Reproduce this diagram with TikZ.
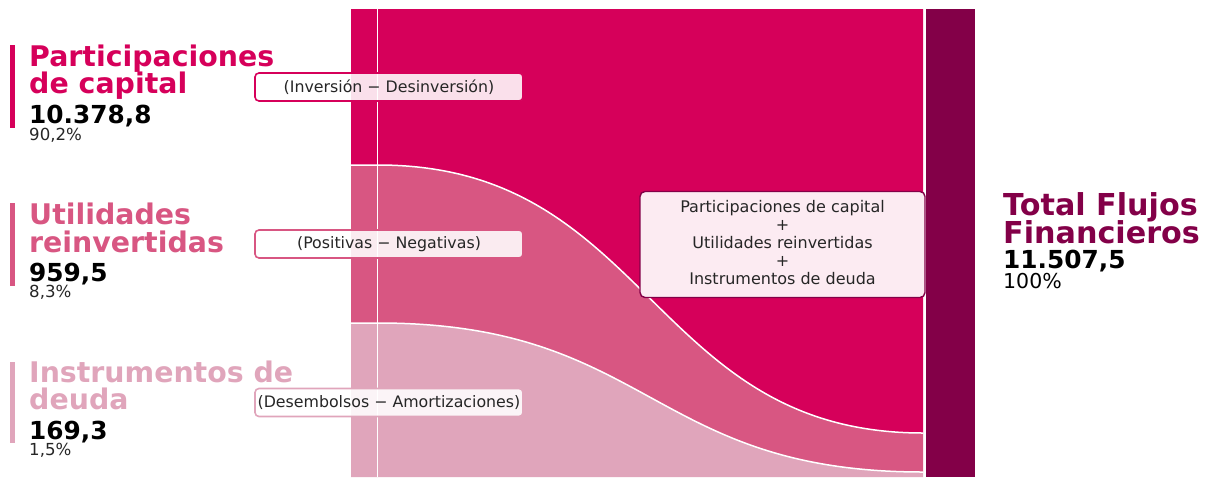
\documentclass[tikz,border=0pt]{standalone}
\usepackage{fontspec}
\setmainfont{DejaVu Sans}
\definecolor{colCap}{RGB}{214,0,90}
\definecolor{colUti}{RGB}{216,86,130}
\definecolor{colIns}{RGB}{224,165,187}
\definecolor{colTot}{RGB}{131,0,72}
\definecolor{tintCap}{RGB}{250,224,235}
\definecolor{tintUti}{RGB}{250,235,240}
\definecolor{tintIns}{RGB}{251,244,247}
\definecolor{sumFill}{RGB}{252,235,242}
\definecolor{txt}{RGB}{38,38,38}
\tikzset{
  ttl/.style={font=\fontsize{28.4}{28.4}\selectfont\bfseries, anchor=base west, inner sep=0},
  bigttl/.style={font=\fontsize{30.2}{30.2}\selectfont\bfseries, anchor=base west, inner sep=0, text=colTot},
  numtxt/.style={font=\fontsize{24.8}{24.8}\selectfont\bfseries, anchor=base west, inner sep=0, text=black},
  pcttxt/.style={font=\fontsize{16.6}{16.6}\selectfont, anchor=base west, inner sep=0, text=txt},
  lblshape/.style={rounded corners=4pt, fill=white, minimum width=268pt, minimum height=28pt, inner sep=0},
  lbltext/.style={rounded corners=4pt, line width=1.6pt, text=txt, minimum width=268pt,
    minimum height=28pt, inner sep=0, font=\fontsize{15.8}{15.8}\selectfont},
  sumbox/.style={rounded corners=5pt, line width=1.4pt, draw=colTot, fill=sumFill,
    minimum width=285pt, minimum height=106pt, inner sep=0},
  sumtext/.style={align=center, text=txt, inner sep=0, font=\fontsize{16}{18}\selectfont},
  sepline/.style={draw=white, line width=1.5pt}
}
\begin{document}
\begin{tikzpicture}[x=1pt,y=-1pt]
\useasboundingbox (0,0) rectangle (1205,477);
% flows
\fill[colCap] (351,9) -- (923,9) -- (923,433) .. controls (650.5,433) and (650.5,165) .. (378,165) -- (351,165) -- cycle;
\fill[colUti] (351,165) -- (378,165) .. controls (650.5,165) and (650.5,433) .. (923,433) -- (923,472) .. controls (650.5,472) and (650.5,323) .. (378,323) -- (351,323) -- cycle;
\fill[colIns] (351,323) -- (378,323) .. controls (650.5,323) and (650.5,472) .. (923,472) -- (923,477) -- (351,477) -- cycle;
\draw[sepline] (351,165) -- (378,165) .. controls (650.5,165) and (650.5,433) .. (923,433);
\draw[sepline] (351,323) -- (378,323) .. controls (650.5,323) and (650.5,472) .. (923,472);
\draw[sepline] (377.5,9) -- (377.5,477);
\draw[sepline, line width=2pt] (924.5,9) -- (924.5,477);
% total bar
\fill[colTot] (926,9) rectangle (975,477);
% left accent bars
\fill[colCap] (10,45) rectangle (15,128);
\fill[colUti] (10,203) rectangle (15,286);
\fill[colIns] (10,362) rectangle (15,443);
% left texts
\node[ttl, text=colCap] (capT1) at (29,66) {Participaciones};
\node[ttl, text=colCap] (capT2) at (29,93) {de capital};
\node[numtxt] (capN) at (29,123) {10.378,8};
\node[pcttxt] (capP) at (29,140) {90,2\%};
\node[ttl, text=colUti] (utiT1) at (29,224) {Utilidades};
\node[ttl, text=colUti] (utiT2) at (29,252) {reinvertidas};
\node[numtxt] (utiN) at (29,281) {959,5};
\node[pcttxt] (utiP) at (29,297) {8,3\%};
\node[ttl, text=colIns] (insT1) at (29,382) {Instrumentos de};
\node[ttl, text=colIns] (insT2) at (29,409) {deuda};
\node[numtxt] (insN) at (29,439) {169,3};
\node[pcttxt] (insP) at (29,455) {1,5\%};
% label boxes (translucent look: white over background, tinted over the flows)
\node[lblshape] (capB) at (389,87) {};
\begin{scope}
  \clip[rounded corners=4pt] (capB.south west) rectangle (capB.north east);
  \fill[tintCap] (351,60) rectangle (376.75,120);
  \fill[tintCap] (378.25,60) rectangle (540,120);
\end{scope}
\node[lbltext, draw=colCap] (capL) at (389,87) {(Inversión − Desinversión)};
\node[lblshape] (utiB) at (389,244) {};
\begin{scope}
  \clip[rounded corners=4pt] (utiB.south west) rectangle (utiB.north east);
  \fill[tintUti] (351,220) rectangle (376.75,270);
  \fill[tintUti] (378.25,220) rectangle (540,270);
\end{scope}
\node[lbltext, draw=colUti] (utiL) at (389,244) {(Positivas − Negativas)};
\node[lblshape] (insB) at (389,402.5) {};
\begin{scope}
  \clip[rounded corners=4pt] (insB.south west) rectangle (insB.north east);
  \fill[tintIns] (351,380) rectangle (376.75,430);
  \fill[tintIns] (378.25,380) rectangle (540,430);
\end{scope}
\node[lbltext, draw=colIns] (insL) at (389,402.5) {(Desembolsos − Amortizaciones)};
% sum box
\node[sumbox] (sumB) at (782.5,244.5) {};
\node[sumtext] (sumT) at (782.5,243) {Participaciones de capital\\+\\Utilidades reinvertidas\\+\\Instrumentos de deuda};
% right texts
\node[bigttl] (totT1) at (1003,215) {Total Flujos};
\node[bigttl] (totT2) at (1003,243) {Financieros};
\node[numtxt] (totN) at (1003,268) {11.507,5};
\node[pcttxt, font=\fontsize{20.5}{20.5}\selectfont, text=black] (totP) at (1003,288) {100\%};
\end{tikzpicture}
\end{document}
